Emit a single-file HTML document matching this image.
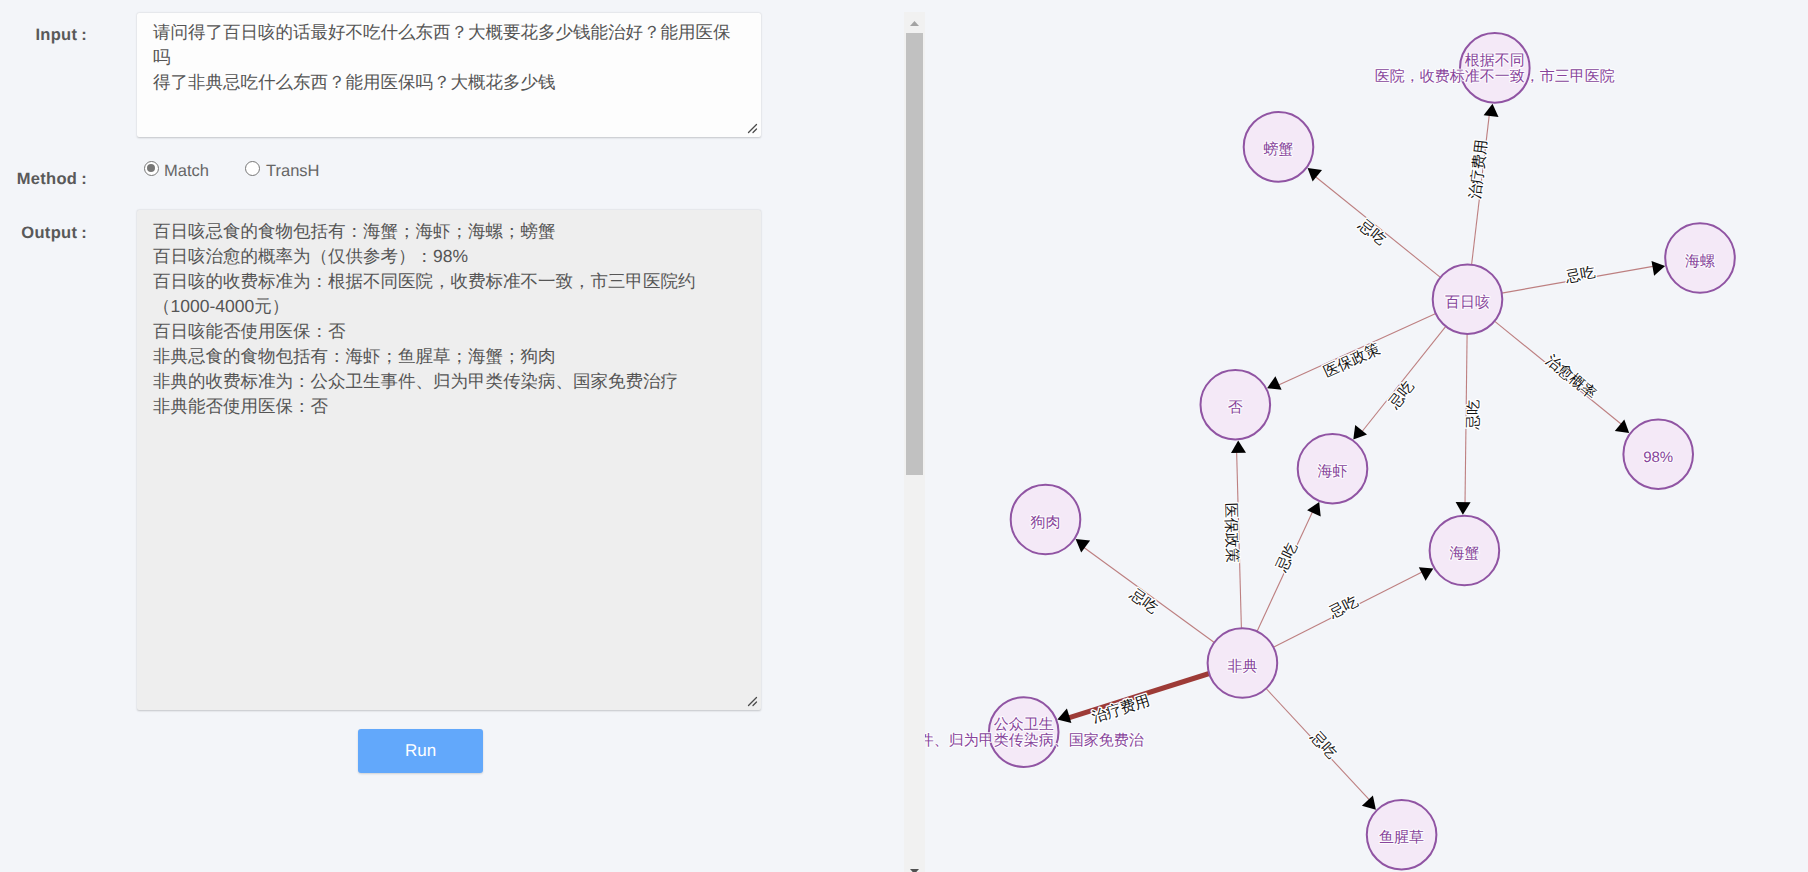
<!DOCTYPE html>
<html><head><meta charset="utf-8">
<style>
html,body{text-rendering:geometricPrecision;margin:0;padding:0;width:1808px;height:872px;overflow:hidden;background:#f3f5f9;font-family:"Liberation Sans",sans-serif;}
.lbl{position:absolute;font-weight:bold;color:#595959;font-size:16.5px;line-height:20px;white-space:nowrap;text-align:right;}
.lbl span{margin-left:4px}.lbl{letter-spacing:0.3px}
.ta{position:absolute;box-sizing:border-box;border-radius:2px;box-shadow:0 0.5px 2px rgba(0,0,0,0.2);color:#555;font-size:17.5px;line-height:25px;padding:7px 16px;white-space:pre;}
#in{left:137px;top:12.5px;width:623.5px;height:124px;background:#fdfdfd;}
#out{left:137px;top:210px;width:623.5px;height:500px;background:#eeeeee;padding-top:8.5px;}
.grip{position:absolute;right:3px;bottom:3px;width:11px;height:11px;}
.radio{position:absolute;width:15px;height:15px;border-radius:50%;box-sizing:border-box;border:1.5px solid #777;background:#fff;}
.radio.on::after{content:"";position:absolute;left:1.75px;top:1.75px;width:8.5px;height:8.5px;border-radius:50%;background:#777;border:0;}
.rtxt{position:absolute;font-size:16.5px;line-height:20px;color:#666;white-space:nowrap;}
#run{position:absolute;left:358px;top:729px;width:125px;height:44px;background:#62a8fb;border-radius:3px;box-shadow:0 1px 2px rgba(0,0,0,0.15);color:#fff;font-size:17px;line-height:44px;text-align:center;}
#sb{position:absolute;left:904px;top:12px;width:21px;height:880px;background:#f1f1f1;}
#thumb{position:absolute;left:906px;top:33px;width:17px;height:442px;background:#c1c1c1;}
.graph{position:absolute;left:0;top:0;}
#gclip{position:absolute;left:925px;top:0;width:883px;height:872px;overflow:hidden;}
#gclip svg{left:-925px;}
.edges line{stroke-linecap:butt}
.elabels text{font-size:15px;fill:#111;text-anchor:middle;stroke:#fff;stroke-width:2.6px;paint-order:stroke;stroke-linejoin:round;}
.nodes circle{fill:#f4e9f7;stroke:#9054a3;stroke-width:2;}
.nlabels text{font-size:15px;fill:#87449b;text-anchor:middle;stroke:#fff;stroke-width:2px;paint-order:stroke;stroke-opacity:.9;stroke-linejoin:round}
</style></head><body>
<div class="lbl" style="left:0;width:87px;top:25px;">Input<span>:</span></div>
<div class="ta" id="in">请问得了百日咳的话最好不吃什么东西？大概要花多少钱能治好？能用医保
吗
得了非典忌吃什么东西？能用医保吗？大概花多少钱<svg class="grip" viewBox="0 0 11 11"><path d="M1.5 9.5L9.5 1.5M6 9.5L9.5 6" stroke="#4a4a4a" stroke-width="1.3" stroke-linecap="round"/></svg></div>
<div class="lbl" style="left:0;width:87px;top:169px;">Method<span>:</span></div>
<div class="radio on" style="left:144px;top:161px;"></div><div class="rtxt" style="left:164px;top:161px;">Match</div>
<div class="radio" style="left:245px;top:161px;"></div><div class="rtxt" style="left:266px;top:161px;">TransH</div>
<div class="lbl" style="left:0;width:87px;top:223px;">Output<span>:</span></div>
<div class="ta" id="out">百日咳忌食的食物包括有：海蟹；海虾；海螺；螃蟹
百日咳治愈的概率为（仅供参考）：98%
百日咳的收费标准为：根据不同医院，收费标准不一致，市三甲医院约
（1000-4000元）
百日咳能否使用医保：否
非典忌食的食物包括有：海虾；鱼腥草；海蟹；狗肉
非典的收费标准为：公众卫生事件、归为甲类传染病、国家免费治疗
非典能否使用医保：否<svg class="grip" viewBox="0 0 11 11"><path d="M1.5 9.5L9.5 1.5M6 9.5L9.5 6" stroke="#4a4a4a" stroke-width="1.3" stroke-linecap="round"/></svg></div>
<div id="run">Run</div>
<div id="sb"><svg style="position:absolute;left:0;top:0" width="21" height="21"><path d="M6 14L10.5 9L15 14Z" fill="#a3a3a3"/></svg><svg style="position:absolute;left:0;top:845px" width="21" height="21"><path d="M6 12L10.5 17L15 12Z" fill="#505050"/></svg></div>
<div id="thumb"></div>
<div id="gclip">
<svg class="graph" width="1808" height="872" viewBox="0 0 1808 872">
<g class="edges"><line x1="1471.6" y1="264.6" x2="1489.4" y2="113.9" stroke="#bd7f80" stroke-width="1.1"/><line x1="1440.4" y1="277.4" x2="1314.6" y2="176.0" stroke="#bd7f80" stroke-width="1.1"/><line x1="1501.8" y1="293.1" x2="1654.4" y2="266.1" stroke="#bd7f80" stroke-width="1.1"/><line x1="1435.8" y1="313.6" x2="1277.5" y2="385.5" stroke="#bd7f80" stroke-width="1.1"/><line x1="1445.8" y1="326.4" x2="1361.3" y2="432.5" stroke="#bd7f80" stroke-width="1.1"/><line x1="1467.1" y1="334.0" x2="1465.0" y2="504.2" stroke="#bd7f80" stroke-width="1.1"/><line x1="1494.5" y1="321.1" x2="1622.3" y2="425.0" stroke="#bd7f80" stroke-width="1.1"/><line x1="1214.3" y1="642.5" x2="1082.9" y2="546.8" stroke="#bd7f80" stroke-width="1.1"/><line x1="1241.4" y1="628.2" x2="1236.6" y2="451.0" stroke="#bd7f80" stroke-width="1.1"/><line x1="1257.0" y1="631.4" x2="1313.0" y2="510.7" stroke="#bd7f80" stroke-width="1.1"/><line x1="1273.4" y1="647.3" x2="1423.1" y2="571.4" stroke="#bd7f80" stroke-width="1.1"/><line x1="1209.2" y1="673.5" x2="1067.8" y2="718.2" stroke="#9d3b37" stroke-width="5"/><line x1="1266.1" y1="688.5" x2="1370.1" y2="800.7" stroke="#bd7f80" stroke-width="1.1"/></g>
<g class="arrows" fill="#000"><polygon points="1492.5,103.7 1498.5,117.0 1483.6,115.2"/><polygon points="1307.6,167.9 1322.0,169.9 1312.6,181.6"/><polygon points="1665.1,266.1 1654.1,275.7 1651.5,260.9"/><polygon points="1267.1,388.2 1275.4,376.2 1281.6,389.8"/><polygon points="1353.3,439.5 1355.2,425.1 1367.0,434.4"/><polygon points="1462.9,514.7 1455.6,502.1 1470.6,502.3"/><polygon points="1629.2,433.1 1614.8,431.0 1624.3,419.4"/><polygon points="1075.6,539.0 1090.1,540.4 1081.2,552.5"/><polygon points="1238.2,440.4 1246.0,452.7 1231.0,453.1"/><polygon points="1319.2,502.0 1320.7,516.5 1307.1,510.2"/><polygon points="1433.3,568.4 1425.6,580.7 1418.8,567.3"/><polygon points="1057.3,719.5 1066.9,708.6 1071.4,722.9"/><polygon points="1375.9,809.7 1361.9,805.7 1372.9,795.5"/></g>
<g class="elabels"><text transform="translate(1477.7,169.2) rotate(-83.3)" dy="0.35em">治疗费用</text><text transform="translate(1372.5,231.8) rotate(38.9)" dy="0.35em">忌吃</text><text transform="translate(1580.4,274.2) rotate(-10.0)" dy="0.35em">忌吃</text><text transform="translate(1351.6,360.0) rotate(-24.4)" dy="0.35em">医保政策</text><text transform="translate(1401.0,394.4) rotate(-51.5)" dy="0.35em">忌吃</text><text transform="translate(1472.8,414.8) rotate(-89.3)" dy="0.35em">忌吃</text><text transform="translate(1571.5,376.7) rotate(39.1)" dy="0.35em">治愈概率</text><text transform="translate(1144.2,600.8) rotate(36.1)" dy="0.35em">忌吃</text><text transform="translate(1232.0,532.9) rotate(88.4)" dy="0.35em">医保政策</text><text transform="translate(1286.3,557.0) rotate(-65.1)" dy="0.35em">忌吃</text><text transform="translate(1343.3,606.5) rotate(-26.9)" dy="0.35em">忌吃</text><text transform="translate(1120.7,708.5) rotate(-17.5)" dy="0.35em">治疗费用</text><text transform="translate(1324.0,744.6) rotate(47.2)" dy="0.35em">忌吃</text></g>
<g class="nodes"><circle cx="1494.8" cy="67.9" r="34.8"/><circle cx="1278.5" cy="146.9" r="34.8"/><circle cx="1467.5" cy="299.2" r="34.8"/><circle cx="1700.0" cy="258.0" r="34.8"/><circle cx="1235.3" cy="404.7" r="34.8"/><circle cx="1332.5" cy="468.7" r="34.8"/><circle cx="1658.2" cy="454.2" r="34.8"/><circle cx="1045.5" cy="519.5" r="34.8"/><circle cx="1464.4" cy="550.5" r="34.8"/><circle cx="1242.4" cy="663.0" r="34.8"/><circle cx="1023.7" cy="732.1" r="34.8"/><circle cx="1401.6" cy="834.7" r="34.8"/></g>
<g class="nlabels"><text x="1278.5" y="154.4">螃蟹</text><text x="1467.5" y="306.7">百日咳</text><text x="1700.0" y="265.5">海螺</text><text x="1235.3" y="412.2">否</text><text x="1332.5" y="476.2">海虾</text><text x="1658.2" y="461.7">98%</text><text x="1045.5" y="527.0">狗肉</text><text x="1464.4" y="558.0">海蟹</text><text x="1242.4" y="670.5">非典</text><text x="1401.6" y="842.2">鱼腥草</text><text x="1494.8" y="64.5">根据不同</text><text x="1494.8" y="80.5">医院，收费标准不一致，市三甲医院</text><text x="1023.7" y="728.7">公众卫生</text><text x="1023.7" y="744.7">事件、归为甲类传染病、国家免费治</text></g>
</svg>
</div>
</body></html>
